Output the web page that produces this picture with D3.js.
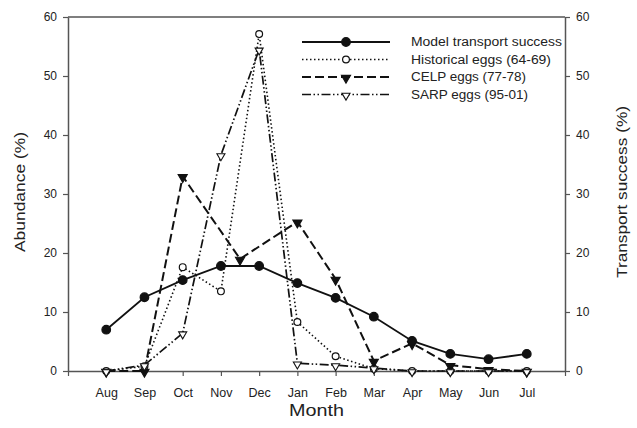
<!DOCTYPE html>
<html>
<head>
<meta charset="utf-8">
<script src="https://cdn.jsdelivr.net/npm/d3@7"></script>
<style>
  body { margin: 0; background: #fff; }
  text { font-family: 'Liberation Sans', Arial, sans-serif; fill: #222; }
</style>
</head>
<body>
<div id="chart"></div>
<script>
// month labels, position 1..12 on the x axis
var months = ['Aug', 'Sep', 'Oct', 'Nov', 'Dec', 'Jan', 'Feb', 'Mar', 'Apr', 'May', 'Jun', 'Jul'];
var monthPos = [1, 2, 3, 4, 5, 6, 7, 8, 9, 10, 11, 12];

// series values (%)
var modelSuccess = [7.0, 12.5, 15.4, 17.8, 17.8, 14.9, 12.4, 9.2, 5.1, 2.9, 2.0, 2.9];
var historicalEggs = [0, 0.8, 17.6, 13.5, 57.1, 8.3, 2.5, 0.4, 0, 0, 0, 0];
// CELP has one point between Nov and Dec
var celpPos = [1, 2, 3, 4.5, 6, 7, 8, 9, 10, 11, 12];
var celpEggs = [0, 0, 33.0, 19.0, 25.3, 15.6, 1.7, 4.7, 1.0, 0.3, 0];
var sarpEggs = [0, 1.0, 6.4, 36.6, 54.5, 1.3, 1.0, 0.5, 0, 0, 0, 0];

var yTicks = [0, 10, 20, 30, 40, 50, 60];
var xTicks = d3.range(0, 14);

var svgWidth = 637;
var svgHeight = 428;
var margin = { top: 17, right: 72, bottom: 57, left: 68 };
var width = svgWidth - margin.left - margin.right;
var height = svgHeight - margin.top - margin.bottom;

var svg = d3.select('#chart').append('svg')
  .attr('width', svgWidth)
  .attr('height', svgHeight);

var g = svg.append('g')
  .attr('transform', `translate(${margin.left}, ${margin.top})`);

var x = d3.scaleLinear().domain([0, 13]).range([0, width]);
var yLeft = d3.scaleLinear().domain([0, 60]).range([height, 0]);
var yRight = d3.scaleLinear().domain([0, 60]).range([height, 0]);

var axisColor = '#555';

// axes
var bottomAxis = d3.axisBottom(x).tickValues(xTicks).tickSize(5).tickSizeOuter(0)
  .tickFormat(d => (d >= 1 && d <= 12) ? months[d - 1] : '');
var leftAxis = d3.axisLeft(yLeft).tickValues(yTicks).tickSize(5).tickSizeOuter(0).tickPadding(6);
var rightAxis = d3.axisRight(yRight).tickValues(yTicks).tickSize(5).tickSizeOuter(0).tickPadding(6);

function styleAxis(sel) {
  sel.select('.domain').attr('stroke', axisColor).attr('stroke-width', 1.5);
  sel.selectAll('.tick line').attr('stroke', axisColor).attr('stroke-width', 1.2);
  sel.selectAll('.tick text')
    .attr('font-family', 'Liberation Sans, Arial, sans-serif')
    .attr('font-size', 12)
    .attr('fill', '#333');
}

g.append('g').attr('transform', `translate(0, ${height})`).call(bottomAxis).call(styleAxis)
  .selectAll('.tick text').attr('font-size', 12.5).attr('dy', '1.45em');
g.append('g').call(leftAxis).call(styleAxis);
g.append('g').attr('transform', `translate(${width}, 0)`).call(rightAxis).call(styleAxis);

// top frame line
g.append('line')
  .attr('x1', 0).attr('x2', width)
  .attr('y1', 0).attr('y2', 0)
  .attr('stroke', axisColor).attr('stroke-width', 1.5);

// axis titles
g.append('text')
  .attr('x', width / 2)
  .attr('y', height + 45)
  .attr('text-anchor', 'middle')
  .attr('font-size', 17)
  .attr('textLength', 55)
  .attr('lengthAdjust', 'spacingAndGlyphs')
  .text('Month');

svg.append('text')
  .attr('transform', `translate(20, ${margin.top + height / 2 - 2}) rotate(-90)`)
  .attr('text-anchor', 'middle')
  .attr('dy', '0.35em')
  .attr('font-size', 14)
  .attr('textLength', 120)
  .attr('lengthAdjust', 'spacingAndGlyphs')
  .text('Abundance (%)');

svg.append('text')
  .attr('transform', `translate(622, ${margin.top + height / 2 - 2}) rotate(-90)`)
  .attr('text-anchor', 'middle')
  .attr('dy', '0.35em')
  .attr('font-size', 14)
  .attr('textLength', 172)
  .attr('lengthAdjust', 'spacingAndGlyphs')
  .text('Transport success (%)');

// series definitions
var series = [
  { name: 'Historical eggs (64-69)', len: 140, pos: monthPos, vals: historicalEggs, dash: '1.5,2.5', width: 1.6, marker: 'circle', fill: '#fff', scale: yLeft },
  { name: 'CELP eggs (77-78)', len: 115, pos: celpPos, vals: celpEggs, dash: '9,4', width: 2, marker: 'tri', fill: '#111', scale: yLeft },
  { name: 'SARP eggs (95-01)', len: 117, pos: monthPos, vals: sarpEggs, dash: '9,2.5,1.5,2.5,1.5,2.5', width: 1.7, marker: 'tri', fill: '#fff', scale: yLeft },
  { name: 'Model transport success', len: 151, pos: monthPos, vals: modelSuccess, dash: null, width: 1.8, marker: 'circle', fill: '#111', scale: yRight }
];

function drawMarker(sel, s, cx, cy) {
  if (s.marker === 'circle') {
    sel.append('circle')
      .attr('cx', cx).attr('cy', cy)
      .attr('r', s.fill === '#fff' ? 3.4 : 4.3)
      .attr('fill', s.fill)
      .attr('stroke', '#111')
      .attr('stroke-width', 1.2);
  } else {
    sel.append('path')
      .attr('d', d3.symbol().type(d3.symbolTriangle).size(s.fill === '#fff' ? 28 : 36)())
      .attr('transform', `translate(${cx}, ${cy + 1}) rotate(180)`)
      .attr('fill', s.fill)
      .attr('stroke', '#111')
      .attr('stroke-width', 1.1);
  }
}

var line = d3.line();

series.forEach(function (s) {
  var pts = s.vals.map((v, i) => [x(s.pos[i]), s.scale(v)]);
  var sg = g.append('g');
  sg.append('path')
    .attr('d', line(pts))
    .attr('fill', 'none')
    .attr('stroke', '#111')
    .attr('stroke-width', s.width)
    .attr('stroke-dasharray', s.dash);
  pts.forEach(p => drawMarker(sg, s, p[0], p[1]));
});

// legend
var legendOrder = [series[3], series[0], series[1], series[2]];
var legend = svg.append('g');
legendOrder.forEach(function (s, i) {
  var ly = 42 + i * 17.5;
  legend.append('line')
    .attr('x1', 302).attr('x2', 390)
    .attr('y1', ly).attr('y2', ly)
    .attr('stroke', '#111')
    .attr('stroke-width', s.width)
    .attr('stroke-dasharray', s.dash);
  drawMarker(legend, s, 346, ly);
  legend.append('text')
    .attr('x', 411)
    .attr('y', ly)
    .attr('dy', '0.35em')
    .attr('font-size', 12)
    .attr('textLength', s.len)
    .attr('lengthAdjust', 'spacingAndGlyphs')
    .text(s.name);
});
</script>
</body>
</html>
